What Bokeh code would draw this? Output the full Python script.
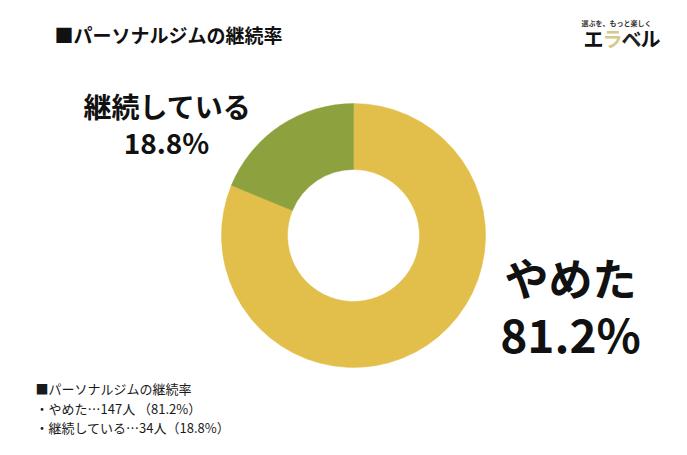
from bokeh.plotting import figure
from bokeh.models import Range1d, ColumnDataSource
from bokeh.core.properties import value
from bokeh.embed import file_html
from bokeh.resources import INLINE
import math

# ---- data ----
categories = ["やめた", "継続している"]
counts = [147, 34]
percents = [81.2, 18.8]
title_text = "■パーソナルジムの継続率"
note_lines = [
    "■パーソナルジムの継続率",
    "・やめた…147人 （81.2%）",
    "・継続している…34人（18.8%）",
]

# ---- styles ----
palette = ["#E2BE4B", "#8DA23E"]
JP = "Noto Sans CJK JP"
H = 455
W_FIG, H_FIG = 671, 439

p = figure(width=W_FIG, height=H_FIG, output_backend="svg", toolbar_location=None,
           x_range=Range1d(0, W_FIG), y_range=Range1d(H - H_FIG, H), min_border=0)
p.axis.visible = False
p.grid.visible = False
p.outline_line_color = None
p.background_fill_color = "white"
p.border_fill_color = "white"

# donut
total = sum(percents)
starts, ends = [], []
cum = 0.0
for v in percents:
    starts.append(math.radians(90 - cum / total * 360))
    cum += v
    ends.append(math.radians(90 - cum / total * 360))
src = ColumnDataSource(dict(cat=categories, start=starts, end=ends, color=palette))
cx, cy = 353, H - 235
p.annular_wedge(x=cx, y=cy, inner_radius=66, outer_radius=132,
                start_angle="start", end_angle="end", direction="clock",
                fill_color="color", line_color="color", line_width=0.5, source=src)

def txt(x, y, s, size, bold=False, align="left", color="#111111"):
    p.text(x=[x], y=[H - y], text=[s], text_font=value(JP),
           text_font_size=f"{size}px", text_font_style="bold" if bold else "normal",
           text_align=align, text_baseline="middle", text_color=color)

# title
txt(54, 34, title_text, 19, bold=True)

# logo
txt(616, 22, "選ぶを、もっと楽しく", 7, bold=True, align="center", color="#333333")
txt(583, 38, "エ", 20, bold=True, color="#111111")
txt(602, 38, "ラ", 20, bold=True, color="#D6CA8A")
txt(621, 38, "ベ", 20, bold=True, color="#222222")
txt(640, 38, "ル", 20, bold=True, color="#111111")

# slice labels
txt(167, 105, categories[1], 28, bold=True, align="center")
txt(166, 141, f"{percents[1]}%", 28, bold=True, align="center")
txt(570, 276, categories[0], 44, bold=True, align="center")
txt(570, 332, f"{percents[0]}%", 46, bold=True, align="center")

# notes
for i, line in enumerate(note_lines):
    txt(35, 388 + i * 19.5, line, 13, color="#1a1a1a")

open("out.html", "w").write(file_html(p, INLINE))
